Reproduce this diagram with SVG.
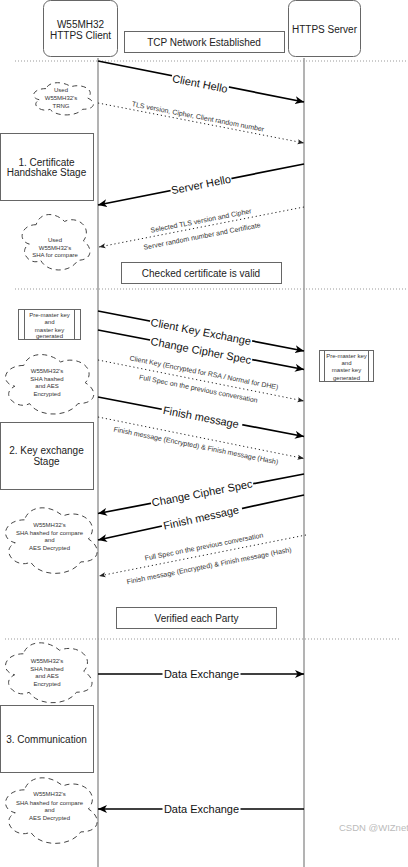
<svg xmlns="http://www.w3.org/2000/svg" width="408" height="867" viewBox="0 0 408 867">
<style>
.lifeline{stroke:#9a9a9a;stroke-width:1.5}
.sep{stroke:#999;stroke-width:1;stroke-dasharray:1 2}
.box{fill:#fff;stroke:#666;stroke-width:1}
.msg{stroke:#000;stroke-width:1.7;fill:none;marker-end:url(#ah)}
.dot{stroke:#222;stroke-width:1;stroke-dasharray:1.2 2.8;fill:none;marker-end:url(#ahs)}
.cloud{fill:#fff;stroke:#444;stroke-width:1;stroke-dasharray:5 4}
.bg{fill:#fff}
text{font-family:"Liberation Sans",Arial,sans-serif;fill:#222}
.t10{font-size:10px}
.t11{font-size:11px;fill:#111}
.t7{font-size:7px;fill:#333}
.t6{font-size:6px;fill:#333}
.mid{text-anchor:middle}
</style>
<defs>
<marker id="ah" markerWidth="10" markerHeight="8" refX="9" refY="4" orient="auto" markerUnits="userSpaceOnUse"><path d="M0,0 L9,4 L0,8 L2.5,4 Z" fill="#000"/></marker>
<marker id="ahs" markerWidth="7" markerHeight="6" refX="6.5" refY="3" orient="auto" markerUnits="userSpaceOnUse"><path d="M0,0.5 L6.5,3 L0,5.5 L1.5,3 Z" fill="#222"/></marker>
</defs>
<rect width="408" height="867" fill="#fff"/>

<g id="lifelines">
<line class="lifeline" x1="98" y1="58" x2="98" y2="867"/>
<line class="lifeline" x1="304" y1="58" x2="304" y2="867"/>
</g>
<g id="separators">
<line class="sep" x1="15" y1="61" x2="408" y2="61"/>
<line class="sep" x1="15" y1="289" x2="408" y2="289"/>
<line class="sep" x1="5" y1="639" x2="400" y2="639"/>
</g>

<g id="client">
<rect class="box" x="43.5" y="0.5" width="74" height="56" rx="7"/>
<text class="t10 mid" x="80.5" y="28">W55MH32</text>
<text class="t10 mid" x="80.5" y="39">HTTPS Client</text>
</g>
<g id="server">
<rect class="box" x="288.5" y="0.5" width="72" height="56" rx="7"/>
<text class="t10 mid" x="324.5" y="32.5">HTTPS Server</text>
</g>
<g id="tcp">
<rect class="box" x="124.5" y="31.5" width="160" height="21"/>
<text class="t10 mid" x="204" y="45.5">TCP Network Established</text>
</g>

<g id="stage1">
<rect class="box" x="0.5" y="133.5" width="93" height="67"/>
<text class="t10 mid" x="46.5" y="165.5">1. Certificate</text>
<text class="t10 mid" x="46.5" y="176">Handshake Stage</text>
</g>
<g id="checked">
<rect class="box" x="121.5" y="262.5" width="160" height="21"/>
<text class="t10 mid" x="201" y="276.5">Checked certificate is valid</text>
</g>
<g id="stage2">
<rect class="box" x="0.5" y="422.5" width="93" height="67"/>
<text class="t10 mid" x="46.5" y="453.5">2. Key exchange</text>
<text class="t10 mid" x="46.5" y="465">Stage</text>
</g>
<g id="verified">
<rect class="box" x="116.5" y="607.5" width="160" height="21"/>
<text class="t10 mid" x="196.5" y="621.5">Verified each Party</text>
</g>
<g id="stage3">
<rect class="box" x="0.5" y="705.5" width="93" height="67"/>
<text class="t10 mid" x="46.5" y="742.5">3. Communication</text>
</g>

<g id="premaster-client">
<rect class="box" x="18.5" y="309.5" width="62" height="30"/>
<line class="box" x1="24.5" y1="309.5" x2="24.5" y2="339.5"/>
<line class="box" x1="74.5" y1="309.5" x2="74.5" y2="339.5"/>
<text class="t6 mid" x="49.5" y="316.5">Pre-master key</text>
<text class="t6 mid" x="49.5" y="324">and</text>
<text class="t6 mid" x="49.5" y="331.5">master key</text>
<text class="t6 mid" x="49.5" y="338">generated</text>
</g>
<g id="premaster-server">
<rect class="box" x="319.5" y="350.5" width="54" height="31"/>
<line class="box" x1="324.5" y1="350.5" x2="324.5" y2="381.5"/>
<line class="box" x1="368.5" y1="350.5" x2="368.5" y2="381.5"/>
<text class="t6 mid" x="346.5" y="357.5">Pre-master key</text>
<text class="t6 mid" x="346.5" y="364.5">and</text>
<text class="t6 mid" x="346.5" y="372">master key</text>
<text class="t6 mid" x="346.5" y="379.5">generated</text>
</g>

<g id="cloud-trng">
<path class="cloud" d="M45.98 88.6 C32.64 88.6 29.3 98 39.97 99.88 C29.3 104.02 41.3 113.04 49.98 109.28 C55.98 116.8 75.99 116.8 82.66 109.28 C96 109.28 96 101.76 87.66 98 C96 90.48 82.66 82.96 70.99 86.72 C62.65 81.08 49.31 81.08 45.98 88.6Z"/>
<text class="t6 mid" x="61" y="92">Used</text>
<text class="t6 mid" x="61" y="100">W55MH32's</text>
<text class="t6 mid" x="61" y="108">TRNG</text>
</g>
<g id="cloud-sha1">
<path class="cloud" d="M36.13 224.68 C20.99 224.68 17.2 240.85 29.31 244.09 C17.2 251.2 30.83 266.73 40.67 260.26 C47.48 273.2 70.19 273.2 77.76 260.26 C92.9 260.26 92.9 247.32 83.44 240.85 C92.9 227.91 77.76 214.97 64.51 221.44 C55.05 211.74 39.91 211.74 36.13 224.68Z"/>
<text class="t6 mid" x="55" y="241.5">Used</text>
<text class="t6 mid" x="55" y="249.5">W55MH32's</text>
<text class="t6 mid" x="55" y="257">SHA for compare</text>
</g>
<g id="cloud-enc1">
<path class="cloud" d="M23.73 365.45 C4.03 365.45 -0.9 382.8 14.86 386.27 C-0.9 393.9 16.83 410.56 29.64 403.62 C38.5 417.5 68.05 417.5 77.9 403.62 C97.6 403.62 97.6 389.74 85.29 382.8 C97.6 368.92 77.9 355.04 60.66 361.98 C48.35 351.57 28.65 351.57 23.73 365.45Z"/>
<text class="t6 mid" x="47" y="373">W55MH32's</text>
<text class="t6 mid" x="47" y="380.5">SHA hashed</text>
<text class="t6 mid" x="47" y="388">and AES</text>
<text class="t6 mid" x="47" y="395.5">Encrypted</text>
</g>
<g id="cloud-dec1">
<path class="cloud" d="M24.48 519.83 C4.02 519.83 -1.1 538.95 15.27 542.78 C-1.1 551.19 17.31 569.55 30.61 561.9 C39.82 577.2 70.51 577.2 80.74 561.9 C101.2 561.9 101.2 546.6 88.41 538.95 C101.2 523.65 80.74 508.35 62.84 516 C50.05 504.53 29.59 504.53 24.48 519.83Z"/>
<text class="t6 mid" x="49.5" y="526.5">W55MH32's</text>
<text class="t6 mid" x="49.5" y="535">SHA hashed for compare</text>
<text class="t6 mid" x="49.5" y="542">and</text>
<text class="t6 mid" x="49.5" y="549.5">AES Decrypted</text>
</g>
<g id="cloud-enc2">
<path class="cloud" d="M23.35 653.78 C4.03 653.78 -0.8 671.25 14.66 674.75 C-0.8 682.43 16.59 699.21 29.15 692.22 C37.84 706.2 66.82 706.2 76.48 692.22 C95.8 692.22 95.8 678.24 83.73 671.25 C95.8 657.27 76.48 643.29 59.58 650.28 C47.5 639.8 28.18 639.8 23.35 653.78Z"/>
<text class="t6 mid" x="47" y="663">W55MH32's</text>
<text class="t6 mid" x="47" y="670.5">SHA hashed</text>
<text class="t6 mid" x="47" y="678">and AES</text>
<text class="t6 mid" x="47" y="685.5">Encrypted</text>
</g>
<g id="cloud-dec2">
<path class="cloud" d="M24.48 789.83 C4.02 789.83 -1.1 808.95 15.27 812.78 C-1.1 821.19 17.31 839.55 30.61 831.9 C39.82 847.2 70.51 847.2 80.74 831.9 C101.2 831.9 101.2 816.6 88.41 808.95 C101.2 793.65 80.74 778.35 62.84 786 C50.05 774.53 29.59 774.53 24.48 789.83Z"/>
<text class="t6 mid" x="49.5" y="796">W55MH32's</text>
<text class="t6 mid" x="49.5" y="804.5">SHA hashed for compare</text>
<text class="t6 mid" x="49.5" y="812">and</text>
<text class="t6 mid" x="49.5" y="819.5">AES Decrypted</text>
</g>

<g id="connectors">
<line class="msg" x1="98" y1="61" x2="304" y2="102"/>
<g transform="translate(200,83.5) rotate(11.26)"><rect class="bg" x="-29" y="-6" width="58" height="12"/><text class="t11 mid" x="0" y="4">Client Hello</text></g>

<line class="dot" x1="98" y1="103" x2="304" y2="143"/>
<g transform="translate(198,116.5) rotate(10.99)"><text class="t7 mid" x="0" y="2.5">TLS version, Cipher, Client random number</text></g>

<line class="msg" x1="304" y1="164" x2="98" y2="205"/>
<g transform="translate(201,184.5) rotate(-11.26)"><rect class="bg" x="-31" y="-6" width="62" height="12"/><text class="t11 mid" x="0" y="4">Server Hello</text></g>

<line class="dot" x1="304" y1="207" x2="99" y2="247"/>
<g transform="translate(201,220.5) rotate(-10.99)"><text class="t7 mid" x="0" y="2.5">Selected TLS version and Cipher</text></g>
<g transform="translate(202,236) rotate(-10.99)"><text class="t7 mid" x="0" y="2.5">Server random number and Certificate</text></g>

<line class="msg" x1="98" y1="311" x2="304" y2="351"/>
<g transform="translate(201,331.5) rotate(10.99)"><rect class="bg" x="-52" y="-6" width="104" height="12"/><text class="t11 mid" x="0" y="4">Client Key Exchange</text></g>

<line class="msg" x1="98" y1="330" x2="304" y2="369.5"/>
<g transform="translate(201,350.5) rotate(10.85)"><rect class="bg" x="-52" y="-6" width="104" height="12"/><text class="t11 mid" x="0" y="4">Change Cipher Spec</text></g>

<line class="dot" x1="98" y1="360" x2="304" y2="401"/>
<g transform="translate(204,372.5) rotate(11.26)"><text class="t7 mid" x="0" y="2.5">Client Key (Encrypted for RSA / Normal for DHE)</text></g>
<g transform="translate(198.5,388.5) rotate(11.26)"><text class="t7 mid" x="0" y="2.5">Full Spec on the previous conversation</text></g>

<line class="msg" x1="98" y1="397" x2="304" y2="436.5"/>
<g transform="translate(201,417) rotate(10.85)"><rect class="bg" x="-40" y="-6" width="82" height="12"/><text class="t11 mid" x="0" y="4">Finish message</text></g>

<line class="dot" x1="98" y1="417" x2="304" y2="458.5"/>
<g transform="translate(196,445.5) rotate(11.39)"><text class="t7 mid" x="0" y="2.5">Finish message (Encrypted) &amp; Finish message (Hash)</text></g>

<line class="msg" x1="304" y1="474" x2="98" y2="513.5"/>
<g transform="translate(202,493) rotate(-10.85)"><rect class="bg" x="-52" y="-6" width="104" height="12"/><text class="t11 mid" x="0" y="4">Change Cipher Spec</text></g>

<line class="msg" x1="304" y1="495" x2="98" y2="540"/>
<g transform="translate(201,517.5) rotate(-12.32)"><rect class="bg" x="-40" y="-6" width="82" height="12"/><text class="t11 mid" x="0" y="4">Finish message</text></g>

<line class="dot" x1="306" y1="535" x2="99" y2="576"/>
<g transform="translate(204,546.5) rotate(-11.15)"><text class="t7 mid" x="0" y="2.5">Full Spec on the previous conversation</text></g>
<g transform="translate(209,565.5) rotate(-11.15)"><text class="t7 mid" x="0" y="2.5">Finish message (Encrypted) &amp; Finish message (Hash)</text></g>

<line class="msg" x1="98" y1="674" x2="304" y2="674"/>
<g transform="translate(201.5,674)"><rect class="bg" x="-39" y="-6" width="78" height="12"/><text class="t11 mid" x="0" y="4">Data Exchange</text></g>

<line class="msg" x1="304" y1="809" x2="98" y2="809"/>
<g transform="translate(201.5,809)"><rect class="bg" x="-39" y="-6" width="78" height="12"/><text class="t11 mid" x="0" y="4">Data Exchange</text></g>
</g>

<text x="339" y="831" style="font-size:9.5px;fill:#bbb">CSDN @WIZnet</text>
</svg>
